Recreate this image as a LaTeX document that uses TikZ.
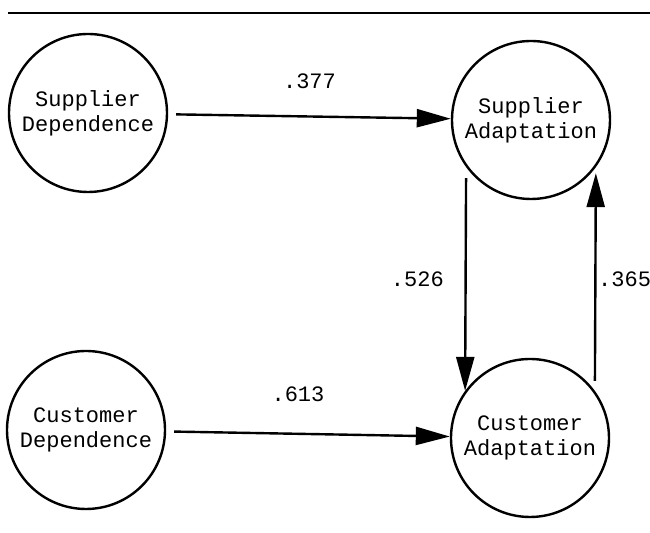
\documentclass[tikz,border=0pt]{standalone}
\usepackage{fontspec}
\setmonofont{Liberation Mono}
\usetikzlibrary{arrows.meta}

\begin{document}
\begin{tikzpicture}[x=0.5pt, y=-0.5pt, >={Triangle[length=17pt, width=9pt]},
    var/.style={circle, draw, line width=1.2pt, minimum size=79pt, inner sep=0pt,
        align=center, font=\ttfamily\fontsize{11}{12.5}\selectfont},
    coef/.style={font=\ttfamily\fontsize{11}{12.5}\selectfont},
    path/.style={->, line width=1.2pt}]
    \useasboundingbox (0,0) rectangle (650,533);

    % Rule at the top
    \coordinate (ruleL) at (8,13);
    \coordinate (ruleR) at (650,13);
    \draw[line width=1.3pt] (ruleL) -- (ruleR);

    % Latent variables
    \node[var] (sd) at (88,113) {Supplier\\Dependence};
    \node[var] (sa) at (531,120) {Supplier\\Adaptation};
    \node[var] (cd) at (86,430) {Customer\\Dependence};
    \node[var] (ca) at (530,438) {Customer\\Adaptation};

    % Paths with coefficients
    \draw[path, shorten <=4pt] (sd) -- (sa) node[coef, midway, above=10pt] {.377};
    \draw[path, shorten <=4pt] (cd) -- (ca) node[coef, midway, above=12pt, xshift=-5pt] {.613};
    \draw[path, shorten <=5.5pt] (sa.216) -- (ca.144) node[coef, midway, left=7pt] {.526};
    \draw[path, shorten <=5pt, shorten >=3pt] (ca.36) -- (sa.324)
        node[coef, midway, right=0pt, inner sep=0.8pt] {.365};
\end{tikzpicture}
\end{document}
